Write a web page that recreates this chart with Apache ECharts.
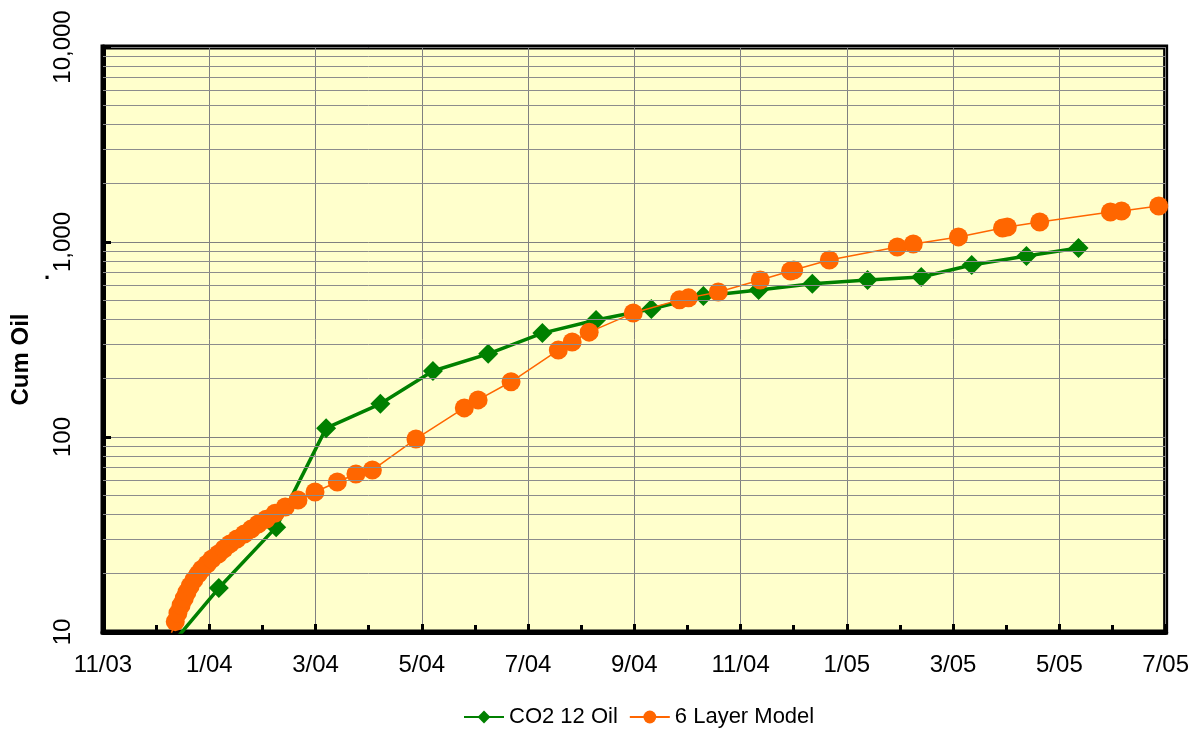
<!DOCTYPE html>
<html>
<head>
<meta charset="UTF-8">
<title>Cum Oil</title>
<script type="text/javascript" src="https://cdn.jsdelivr.net/npm/echarts@6/dist/echarts.min.js"></script>
<style>
  body{margin:0;background:#fff}
</style>
</head>
<body>
<div id="main" style="width:1192px;height:733px"></div>
<script type="text/javascript">
// months counted from 11/03 (0 = 11/03, 20 = 7/05)
var co2Months = [1.10, 2.18, 3.26, 4.20, 5.22, 6.21, 7.25, 8.27, 9.28, 10.32, 11.30, 12.34, 13.35, 14.39, 15.40, 16.35, 17.38, 18.36];
var co2Oil    = [7.5, 16.8, 34.5, 111, 148, 218, 267, 341, 398, 453, 528, 567, 610, 638, 662, 762, 847, 931];

var modelMonths = [1.17, 1.36, 1.41, 1.47, 1.53, 1.58, 1.64, 1.71, 1.79, 1.86, 1.96, 2.05, 2.17, 2.28, 2.39, 2.52, 2.66, 2.79, 2.92, 3.07, 3.24, 3.43, 3.67, 3.99, 4.41, 4.76, 5.07, 5.89, 6.80, 7.06, 7.68, 8.57, 8.83, 9.15, 9.98, 10.85, 11.02, 11.58, 12.37, 12.94, 13.00, 13.67, 14.95, 15.25, 16.10, 16.93, 17.02, 17.63, 18.96, 19.17, 19.87, 20.66];
var modelOil    = [7.9, 11.3, 12.5, 13.7, 14.9, 16.0, 17.2, 18.5, 19.8, 21.0, 22.3, 23.7, 25.1, 26.7, 28.3, 30.0, 31.8, 33.7, 35.8, 37.9, 40.7, 43.8, 47.5, 52.2, 58.8, 64.6, 67.7, 97.7, 141, 155, 192, 279, 307, 345, 432, 505, 517, 554, 639, 710, 718, 808, 943, 977, 1062, 1181, 1195, 1267, 1426, 1443, 1530, 1640];

// in-between log grid lines (2..9 of each decade)
var minorLevels = [20, 30, 40, 50, 60, 70, 80, 90, 200, 300, 400, 500, 600, 700, 800, 900, 2000, 3000, 4000, 5000, 6000, 7000, 8000, 9000];

function pairs(xs, ys) {
    return xs.map(function (x, i) { return [x, ys[i]]; });
}

function monthLabel(m) {
    var mon = (10 + m) % 12 + 1;
    var yr = 3 + Math.floor((10 + m) / 12);
    return mon + '/' + (yr < 10 ? '0' + yr : yr);
}

var myChart = echarts.init(document.getElementById('main'));

var option = {
    animation: false,
    textStyle: {fontFamily: 'Liberation Sans'},
    grid: {
        left: 103, right: 26, top: 47, bottom: 101,
        show: true,
        backgroundColor: '#FFFFCC',
        borderColor: '#000',
        borderWidth: 5
    },
    graphic: [{
        type: 'text',
        left: 44,
        top: 262,
        style: {text: '.', font: 'bold 22px "Liberation Sans"', fill: '#000'}
    }],
    legend: {
        bottom: 0,
        left: 458,
        itemWidth: 40,
        itemHeight: 16,
        itemGap: 11,
        textStyle: {fontSize: 22, color: '#000'},
        data: ['CO2 12 Oil', '6 Layer Model']
    },
    xAxis: {
        type: 'value',
        min: 0,
        max: 20,
        interval: 2,
        axisLine: {show: true, lineStyle: {color: '#000', width: 5}},
        axisTick: {show: true, inside: true, length: 8, lineStyle: {color: '#000', width: 3}},
        minorTick: {show: true, splitNumber: 2, length: 7, lineStyle: {color: '#000', width: 3}},
        axisLabel: {
            fontSize: 24,
            color: '#000',
            margin: 21,
            formatter: function (v) { return monthLabel(Math.round(v)); }
        },
        splitLine: {show: true, lineStyle: {color: '#808080', width: 1}}
    },
    yAxis: {
        type: 'log',
        logBase: 10,
        min: 10,
        max: 10000,
        name: 'Cum Oil      ',
        nameLocation: 'middle',
        nameGap: 70,
        nameRotate: 90,
        nameTextStyle: {fontSize: 24, fontWeight: 'bold', color: '#000'},
        axisLine: {show: true, lineStyle: {color: '#000', width: 5}},
        axisTick: {show: true, inside: true, length: 8, lineStyle: {color: '#000', width: 3}},
        axisLabel: {
            fontSize: 24,
            color: '#000',
            rotate: 90,
            margin: 28,
            formatter: function (v) { return echarts.format.addCommas(Math.round(v)); }
        },
        splitLine: {show: true, lineStyle: {color: '#808080', width: 1}}
    },
    series: [
        {
            name: 'minor',
            type: 'line',
            data: [],
            z: 1,
            silent: true,
            markLine: {
                silent: true,
                symbol: ['none', 'none'],
                label: {show: false},
                lineStyle: {color: '#8c8c8c', width: 1, type: 'solid'},
                data: minorLevels.map(function (v) { return {yAxis: v}; })
            }
        },
        {
            name: 'CO2 12 Oil',
            type: 'line',
            z: 3,
            data: pairs(co2Months, co2Oil),
            symbol: 'diamond',
            symbolSize: 20,
            color: '#008000',
            lineStyle: {width: 3.5, color: '#008000'},
            itemStyle: {color: '#008000'}
        },
        {
            name: '6 Layer Model',
            type: 'line',
            z: 4,
            data: pairs(modelMonths, modelOil),
            symbol: 'circle',
            symbolSize: 19,
            color: '#FF6600',
            lineStyle: {width: 1.5, color: '#FF6600'},
            itemStyle: {color: '#FF6600'}
        }
    ]
};

myChart.setOption(option);
</script>
</body>
</html>
